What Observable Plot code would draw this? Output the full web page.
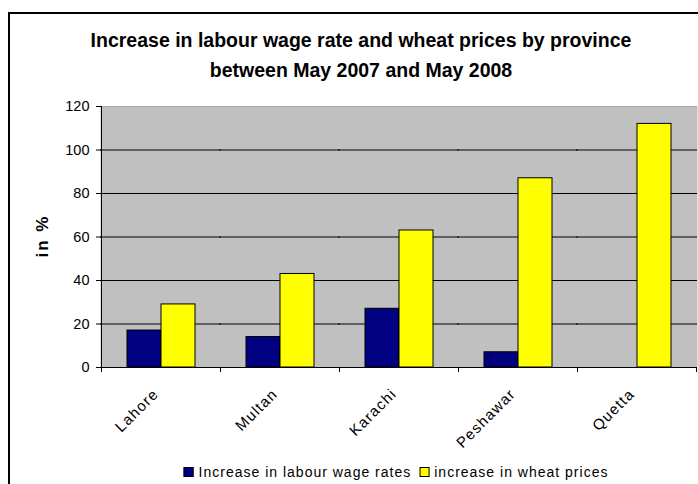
<!DOCTYPE html>
<html>
<head>
<meta charset="utf-8">
<script src="https://cdn.jsdelivr.net/npm/d3@7"></script>
<script src="https://cdn.jsdelivr.net/npm/@observablehq/plot@0.6"></script>
<style>
  html, body { margin: 0; padding: 0; background: #fff; overflow: hidden; width: 698px; height: 484px; }
  body { position: relative; font-family: Arial, "Liberation Sans", sans-serif; }
  #box { position: absolute; left: 8px; top: 12px; width: 706px; height: 500px; border: 2px solid #000; box-sizing: border-box; }
  #title { position: absolute; left: 11px; width: 700px; top: 25px; text-align: center; font-weight: bold; font-size: 19.5px; line-height: 30px; white-space: nowrap; color: #000; }
  #chart { position: absolute; left: 0; top: 90px; }
  #ylab { position: absolute; left: 43px; top: 236px; transform: translate(-50%, -50%) rotate(-90deg); font-weight: bold; font-size: 17px; letter-spacing: 2px; white-space: nowrap; }
  #legend { position: absolute; left: 400px; top: 464px; transform: translateX(-50%); font-size: 14px; letter-spacing: 1px; white-space: nowrap; display: flex; align-items: center; }
  #legend .sw { display: inline-block; width: 10px; height: 10px; border: 1px solid #000; box-sizing: border-box; margin-right: 5px; }
  #legend .item { display: flex; align-items: center; margin-right: 8px; }
</style>
</head>
<body>
<div id="box"></div>
<div id="title"><div>Increase in labour wage rate and wheat prices by province</div><div>between May 2007 and May 2008</div></div>
<div id="ylab">in %</div>
<div id="chart"></div>
<div id="legend"></div>
<script>
const cities = ["Lahore", "Multan", "Karachi", "Peshawar", "Quetta"];
const wageIncrease = [17, 14, 27, 7, 0];
const wheatIncrease = [29, 43, 63, 87, 112];
const seriesNames = ["Increase in labour wage rates", "increase in wheat prices"];
const seriesColors = ["#000080", "#ffff00"];
const yTicks = [0, 20, 40, 60, 80, 100, 120];

const data = [];
cities.forEach((c, i) => {
  data.push({city: c, series: seriesNames[0], value: wageIncrease[i]});
  data.push({city: c, series: seriesNames[1], value: wheatIncrease[i]});
});

const plot = Plot.plot({
  width: 698,
  height: 370,
  marginLeft: 100,
  marginRight: 2,
  marginTop: 16,
  marginBottom: 93,
  style: {fontFamily: "Arial, 'Liberation Sans', sans-serif", background: "transparent", overflow: "visible"},
  fx: {domain: cities, padding: 0, label: null},
  x: {domain: seriesNames, paddingInner: 0, paddingOuter: 0.72, axis: null},
  y: {domain: [0, 120], axis: null},
  color: {domain: seriesNames, range: seriesColors},
  marks: [
    Plot.frame({fill: "#c0c0c0", stroke: null, insetLeft: -1, insetRight: -1}),
    Plot.gridY(yTicks.filter(d => d > 0 && d < 120), {stroke: "#000", strokeOpacity: 1, strokeWidth: 1, insetLeft: -1, insetRight: -1}),
    Plot.gridY([120], {stroke: "#a8a8a8", strokeOpacity: 1, strokeWidth: 1, insetLeft: -1, insetRight: -1}),
    Plot.barY(data, {fx: "city", x: "series", y: "value", fill: "series", stroke: "#000", strokeWidth: 1}),
    Plot.ruleY([0], {stroke: "#000", strokeWidth: 1, insetLeft: -1, insetRight: -1}),
    Plot.axisY(yTicks, {tickSize: 5, tickPadding: 7, fontSize: 14.5, label: null, stroke: "#000"}),
    Plot.axisFx({anchor: "bottom", tickSize: 0, tickRotate: -45, tickPadding: 24, fontSize: 15, label: null, dx: -5})
  ]
});
document.getElementById("chart").appendChild(plot);

// axis line and category boundary ticks, positioned with Plot's scales
const svg = d3.select(plot);
svg.selectAll('[aria-label="fx-axis tick label"] text').attr("letter-spacing", "1.2px");
const fx = plot.scale("fx");
const y = plot.scale("y");
const y0 = y.apply(0), yTop = y.apply(120);
const left = fx.apply(cities[0]);
svg.append("line").attr("x1", left + 0.5).attr("x2", left + 0.5).attr("y1", yTop).attr("y2", y0).attr("stroke", "#000");
const edges = cities.map(c => fx.apply(c));
edges.push(fx.apply(cities[cities.length - 1]) + fx.bandwidth);
edges.forEach(e => {
  svg.append("line").attr("x1", e + 0.5).attr("x2", e + 0.5).attr("y1", y0).attr("y2", y0 + 5).attr("stroke", "#000");
});

// legend
const lg = document.getElementById("legend");
seriesNames.forEach((s, i) => {
  const it = document.createElement("span");
  it.className = "item";
  const sw = document.createElement("span");
  sw.className = "sw";
  sw.style.background = seriesColors[i];
  it.appendChild(sw);
  it.appendChild(document.createTextNode(s));
  lg.appendChild(it);
});
</script>
</body>
</html>
